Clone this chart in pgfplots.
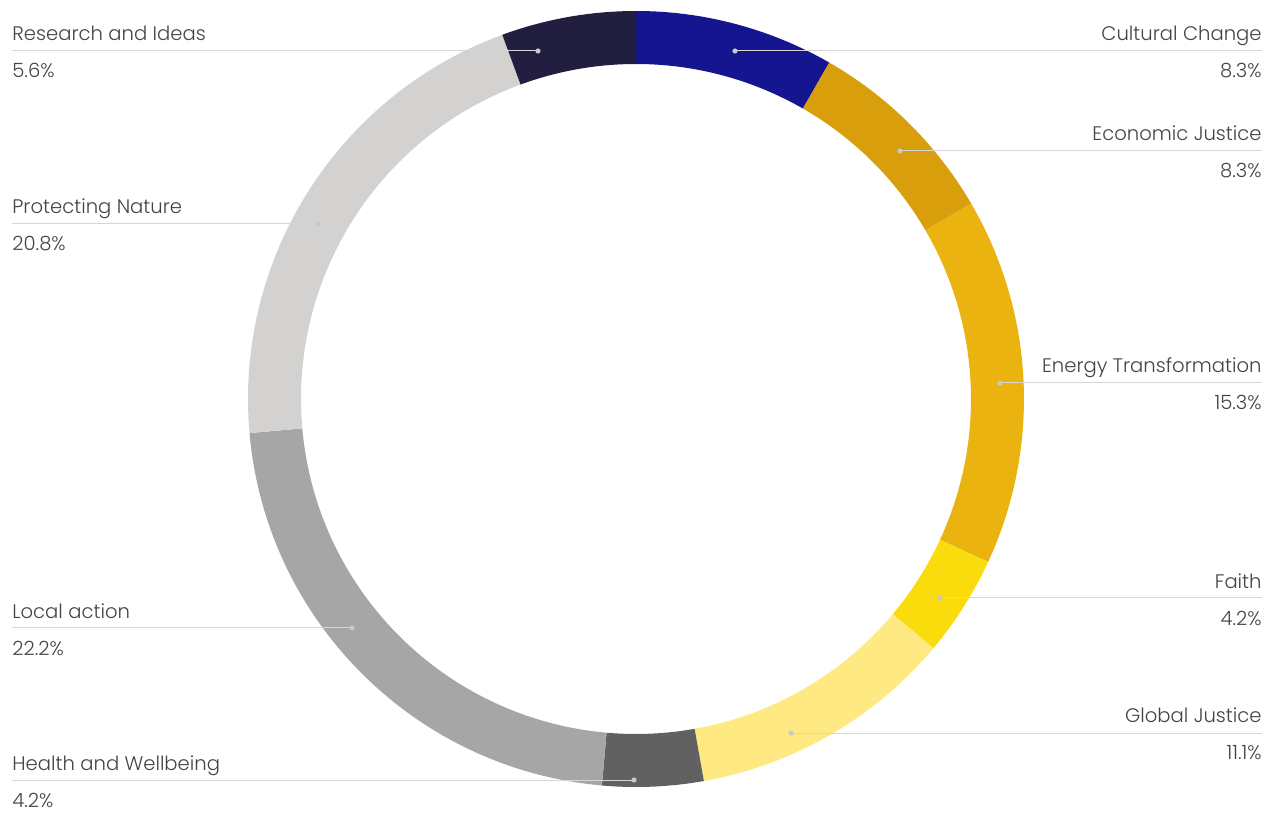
\documentclass[border=0pt]{standalone}
\usepackage{pgfplots}
\pgfplotsset{compat=1.18}
\usepackage{pgfplotstable}
\usepackage{fontspec}
\setmainfont{Poppins}[UprightFont={* Light}]
\definecolor{c0}{HTML}{15168F}
\definecolor{c1}{HTML}{D99E0B}
\definecolor{c2}{HTML}{EAB30F}
\definecolor{c3}{HTML}{FADC0C}
\definecolor{c4}{HTML}{FEE982}
\definecolor{c5}{HTML}{616161}
\definecolor{c6}{HTML}{A6A6A6}
\definecolor{c7}{HTML}{D3D2D1}
\definecolor{c8}{HTML}{221E40}
\definecolor{linec}{HTML}{D6D6D6}
\definecolor{dotc}{HTML}{C8C8C8}
\definecolor{textc}{HTML}{444444}

\pgfplotstableread[col sep=comma]{
name,value,side,liney,dotx
Cultural Change,8.3,1,764,735
Economic Justice,8.3,1,664,900
Energy Transformation,15.3,1,432,1000
Faith,4.2,1,217,940
Global Justice,11.1,1,82,791
Health and Wellbeing,4.2,0,35,634
Local action,22.2,0,187,352
Protecting Nature,20.8,0,591,318
Research and Ideas,5.6,0,764,538
}\donut
\pgfplotstablecreatecol[create col/expr accum={\pgfmathaccuma + \thisrow{value}}{0}]{cum}\donut

\begin{document}
\begin{tikzpicture}
\begin{axis}[x=0.5pt,y=0.5pt,xmin=0,xmax=1281,ymin=0,ymax=815,hide axis,clip=false]
\pgfplotsextra{
  \path (axis cs:0,0) rectangle (axis cs:1281,815);
  \pgfplotstablegetrowsof{\donut}
  \pgfmathtruncatemacro{\last}{\pgfplotsretval-1}
  \foreach \i in {0,...,\last}{
    \pgfplotstablegetelem{\i}{value}\of\donut \let\val\pgfplotsretval
    \pgfplotstablegetelem{\i}{cum}\of\donut \let\cum\pgfplotsretval
    \pgfmathsetmacro{\aa}{90-3.6*(\cum-\val)}
    \pgfmathsetmacro{\ab}{90-3.6*\cum}
    \fill[c\i] (axis cs:636,416) ++(\aa:194pt) arc[start angle=\aa,end angle=\ab,radius=194pt]
      -- ++(\ab:-26.5pt) arc[start angle=\ab,end angle=\aa,radius=167.5pt] -- cycle;
  }
  \foreach \i in {0,...,\last}{
    \pgfplotstablegetelem{\i}{value}\of\donut \let\val\pgfplotsretval
    \pgfplotstablegetelem{\i}{name}\of\donut \let\nm\pgfplotsretval
    \pgfplotstablegetelem{\i}{side}\of\donut \let\sd\pgfplotsretval
    \pgfplotstablegetelem{\i}{liney}\of\donut \let\ly\pgfplotsretval
    \pgfplotstablegetelem{\i}{dotx}\of\donut \let\dx\pgfplotsretval
    \ifnum\sd=1
      \draw[linec,line width=0.5pt] (axis cs:\dx,\ly) -- (axis cs:1262,\ly);
      \node[anchor=base east,inner sep=0,text=textc,font=\fontsize{9.8}{12}\selectfont] at ([yshift=5pt]axis cs:1262,\ly) {\nm};
      \node[anchor=base east,inner sep=0,text=textc,font=\fontsize{9.8}{12}\selectfont] at ([yshift=-13.5pt]axis cs:1262,\ly) {\val\%};
    \else
      \draw[linec,line width=0.5pt] (axis cs:12,\ly) -- (axis cs:\dx,\ly);
      \node[anchor=base west,inner sep=0,text=textc,font=\fontsize{9.8}{12}\selectfont] at ([yshift=5pt]axis cs:12,\ly) {\nm};
      \node[anchor=base west,inner sep=0,text=textc,font=\fontsize{9.8}{12}\selectfont] at ([yshift=-13.5pt]axis cs:12,\ly) {\val\%};
    \fi
    \fill[dotc] (axis cs:\dx,\ly) circle[radius=1.3pt];
  }
}
\end{axis}
\end{tikzpicture}
\end{document}
